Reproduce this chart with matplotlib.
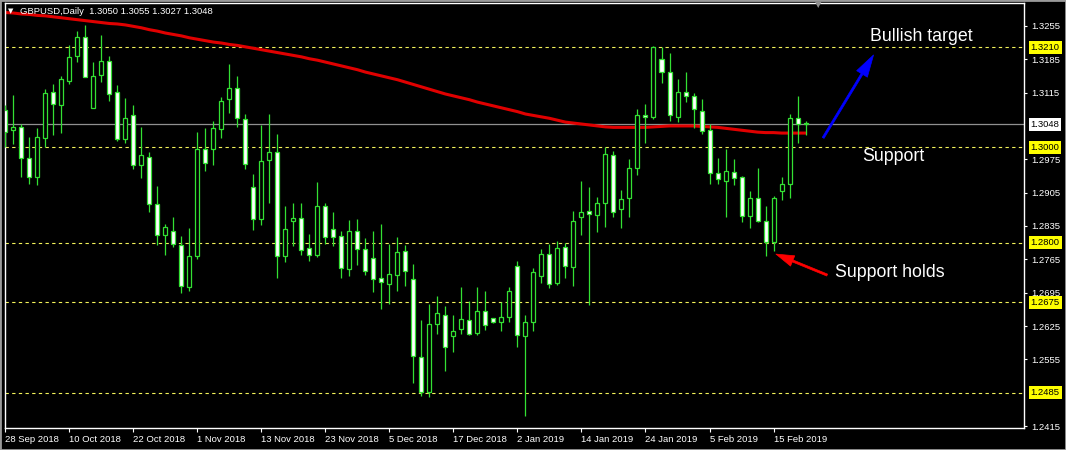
import numpy as np
import matplotlib.pyplot as plt
from matplotlib.patches import Rectangle

# GBPUSD daily bars, 28 Sep 2018 .. 21 Feb 2019
opens = [1.3078, 1.3036, 1.3042, 1.2977, 1.2938, 1.3019, 1.3117, 1.3088, 1.3140, 1.3192,
         1.3232, 1.3083, 1.3151, 1.3182, 1.3115, 1.3017, 1.3068, 1.2964, 1.2980, 1.2880,
         1.2816, 1.2825, 1.2795, 1.2707, 1.2772, 1.2996, 1.2996, 1.3038, 1.3101, 1.3125,
         1.3060, 1.2917, 1.2849, 1.2973, 1.2991, 1.2772, 1.2846, 1.2851, 1.2788, 1.2774,
         1.2877, 1.2828, 1.2814, 1.2744, 1.2824, 1.2787, 1.2767, 1.2726, 1.2714, 1.2733,
         1.2782, 1.2723, 1.2560, 1.2486, 1.2630, 1.2648, 1.2604, 1.2618, 1.2637, 1.2611,
         1.2656, 1.2641, 1.2633, 1.2643, 1.2751, 1.2605, 1.2633, 1.2730, 1.2775, 1.2716,
         1.2790, 1.2749, 1.2853, 1.2866, 1.2859, 1.2884, 1.2984, 1.2870, 1.2893, 1.2956,
         1.3068, 1.3063, 1.3185, 1.3157, 1.3064, 1.3115, 1.3108, 1.3076, 1.3036, 1.2945,
         1.2930, 1.2949, 1.2938, 1.2856, 1.2893, 1.2845, 1.2802, 1.2909, 1.2924, 1.3061,
         1.3050]
highs = [1.3089, 1.3110, 1.3050, 1.3021, 1.3040, 1.3122, 1.3132, 1.3150, 1.3215, 1.3244,
         1.3257, 1.3180, 1.3236, 1.3192, 1.3131, 1.3103, 1.3089, 1.3042, 1.2991, 1.2919,
         1.2840, 1.2853, 1.2814, 1.2830, 1.3033, 1.3040, 1.3056, 1.3105, 1.3175, 1.3150,
         1.3069, 1.2945, 1.3047, 1.3071, 1.3029, 1.2877, 1.2884, 1.2884, 1.2819, 1.2927,
         1.2884, 1.2864, 1.2825, 1.2847, 1.2850, 1.2809, 1.2824, 1.2839, 1.2797, 1.2811,
         1.2795, 1.2756, 1.2637, 1.2672, 1.2688, 1.2667, 1.2648, 1.2707, 1.2678, 1.2707,
         1.2698, 1.2642, 1.2675, 1.2707, 1.2761, 1.2648, 1.2746, 1.2786, 1.2797, 1.2803,
         1.2800, 1.2866, 1.2929, 1.2917, 1.2896, 1.3000, 1.2992, 1.2910, 1.2975, 1.3080,
         1.3092, 1.3213, 1.3210, 1.3199, 1.3143, 1.3159, 1.3115, 1.3101, 1.3050, 1.2978,
         1.2996, 1.2976, 1.2940, 1.2908, 1.2957, 1.2877, 1.2898, 1.2938, 1.3071, 1.3108,
         1.3055]
lows = [1.3001, 1.3008, 1.2938, 1.2923, 1.2920, 1.3000, 1.3026, 1.3031, 1.3134, 1.3180,
        1.3147, 1.3082, 1.3138, 1.3098, 1.3014, 1.3010, 1.2955, 1.2935, 1.2865, 1.2796,
        1.2775, 1.2790, 1.2695, 1.2699, 1.2765, 1.2951, 1.2964, 1.3019, 1.3073, 1.3043,
        1.2955, 1.2826, 1.2837, 1.2884, 1.2725, 1.2760, 1.2794, 1.2774, 1.2762, 1.2770,
        1.2798, 1.2794, 1.2725, 1.2730, 1.2753, 1.2732, 1.2697, 1.2660, 1.2672, 1.2699,
        1.2709, 1.2506, 1.2479, 1.2476, 1.2608, 1.2531, 1.2571, 1.2608, 1.2606, 1.2606,
        1.2616, 1.2632, 1.2615, 1.2634, 1.2581, 1.2436, 1.2615, 1.2716, 1.2705, 1.2711,
        1.2726, 1.2709, 1.2817, 1.2670, 1.2823, 1.2832, 1.2854, 1.2830, 1.2854, 1.2943,
        1.3010, 1.3059, 1.3136, 1.3056, 1.3054, 1.3096, 1.3041, 1.3029, 1.2924, 1.2924,
        1.2853, 1.2920, 1.2844, 1.2831, 1.2844, 1.2772, 1.2783, 1.2889, 1.2894, 1.3010,
        1.3027]
closes = [1.3033, 1.3042, 1.2977, 1.2938, 1.3021, 1.3113, 1.3090, 1.3143, 1.3190, 1.3232,
          1.3148, 1.3150, 1.3182, 1.3113, 1.3017, 1.3061, 1.2964, 1.2983, 1.2881, 1.2816,
          1.2832, 1.2798, 1.2709, 1.2772, 1.2996, 1.2968, 1.3040, 1.3098, 1.3125, 1.3061,
          1.2966, 1.2849, 1.2972, 1.2991, 1.2772, 1.2828, 1.2851, 1.2784, 1.2775, 1.2877,
          1.2812, 1.2811, 1.2746, 1.2824, 1.2786, 1.2741, 1.2723, 1.2717, 1.2733, 1.2780,
          1.2741, 1.2562, 1.2487, 1.2629, 1.2653, 1.2580, 1.2614, 1.2640, 1.2609, 1.2656,
          1.2627, 1.2633, 1.2643, 1.2698, 1.2607, 1.2633, 1.2738, 1.2777, 1.2714, 1.2788,
          1.2751, 1.2845, 1.2864, 1.2861, 1.2884, 1.2985, 1.2864, 1.2891, 1.2956, 1.3068,
          1.3063, 1.3211, 1.3159, 1.3067, 1.3115, 1.3108, 1.3080, 1.3035, 1.2947, 1.2933,
          1.2951, 1.2935, 1.2856, 1.2893, 1.2845, 1.2802, 1.2893, 1.2922, 1.3061, 1.3049,
          1.3048]
# moving average (red)
ma = [1.3283, 1.3282, 1.3280, 1.3279, 1.3277, 1.3276, 1.3274, 1.3272, 1.3270, 1.3268,
      1.3266, 1.3264, 1.3262, 1.3260, 1.3259, 1.3257, 1.3254, 1.3251, 1.3247, 1.3244,
      1.3240, 1.3237, 1.3234, 1.3230, 1.3227, 1.3224, 1.3221, 1.3219, 1.3216, 1.3214,
      1.3211, 1.3208, 1.3205, 1.3202, 1.3199, 1.3196, 1.3193, 1.3190, 1.3186, 1.3183,
      1.3179, 1.3175, 1.3171, 1.3167, 1.3163, 1.3158, 1.3154, 1.3150, 1.3146, 1.3142,
      1.3137, 1.3132, 1.3127, 1.3122, 1.3117, 1.3112, 1.3108, 1.3104, 1.3100, 1.3095,
      1.3091, 1.3087, 1.3083, 1.3079, 1.3075, 1.3070, 1.3067, 1.3064, 1.3061, 1.3057,
      1.3053, 1.3051, 1.3049, 1.3047, 1.3045, 1.3043, 1.3042, 1.3042, 1.3042, 1.3042,
      1.3042, 1.3043, 1.3044, 1.3045, 1.3045, 1.3045, 1.3045, 1.3044, 1.3043, 1.3042,
      1.3040, 1.3038, 1.3036, 1.3034, 1.3032, 1.3031, 1.3031, 1.3030, 1.3030, 1.3030,
      1.3030]

date_labels = ['28 Sep 2018', '10 Oct 2018', '22 Oct 2018', '1 Nov 2018', '13 Nov 2018',
               '23 Nov 2018', '5 Dec 2018', '17 Dec 2018', '2 Jan 2019', '14 Jan 2019',
               '24 Jan 2019', '5 Feb 2019', '15 Feb 2019']
date_pos = [0, 8, 16, 24, 32, 40, 48, 56, 64, 72, 80, 88, 96]
price_ticks = [1.3255, 1.3185, 1.3115, 1.2975, 1.2905, 1.2835, 1.2765, 1.2695,
               1.2625, 1.2555, 1.2415]
levels = [1.3210, 1.3000, 1.2800, 1.2675, 1.2485]
last_price = 1.3048

plt.rcParams['font.family'] = ['Liberation Sans', 'DejaVu Sans']

fig = plt.figure(figsize=(10.66, 4.5), dpi=100, facecolor='black')
ax = fig.add_axes([5/1066, 22/450, 1019/1066, 425/450])
ax.set_facecolor('black')

o = np.array(opens); h = np.array(highs); l = np.array(lows); c = np.array(closes)
x = np.arange(len(o))
green = '#33e033'

ax.vlines(x, l, h, color=green, lw=0.9, zorder=3)
fill = np.where(c < o, 'white', 'black')
ax.bar(x, np.abs(c - o) + 0.00002, bottom=np.minimum(o, c), width=0.5,
       color=fill, edgecolor=green, linewidth=0.9, zorder=4)

ax.plot(x, ma, color='#e00000', lw=2.2, zorder=2)

for lv in levels:
    ax.axhline(lv, color='#f2f25a', lw=0.8, dashes=(3, 3), zorder=1)
ax.axhline(last_price, color='#909090', lw=0.9, zorder=1)

ax.set_xlim(-0.04, 127.3)
ax.set_ylim(1.2411, 1.3303)

ax.set_xticks(date_pos)
ax.set_xticklabels(date_labels, ha='left')
ax.set_yticks(price_ticks)
ax.set_yticklabels([f'{p:.4f}' for p in price_ticks])
ax.yaxis.tick_right()
ax.tick_params(axis='x', colors='white', length=3, width=0.8, labelsize=6.8, pad=2)
ax.tick_params(axis='y', colors='white', length=2.5, width=0.8, labelsize=6.8, pad=2.5)
for s in ax.spines.values():
    s.set_color('white')
    s.set_linewidth(1)

ytr = ax.get_yaxis_transform()
for lv in levels:
    ax.text(1.0066, lv, f'{lv:.4f}', transform=ytr, ha='left', va='center',
            fontsize=6.8, color='black',
            bbox=dict(boxstyle='square,pad=0.2', fc='yellow', ec='none'))
ax.text(1.0066, last_price, f'{last_price:.4f}', transform=ytr, ha='left', va='center',
        fontsize=6.8, color='black',
        bbox=dict(boxstyle='square,pad=0.2', fc='white', ec='none'))

# annotations
ax.text(108.1, 1.3232, 'Bullish target', color='white', fontsize=12.8, va='center')
ax.text(107.1, 1.2980, 'Support', color='white', fontsize=12.8, va='center')
ax.text(103.7, 1.2738, 'Support holds', color='white', fontsize=12.8, va='center')

ax.annotate('', xy=(108.5, 1.3194), xytext=(102.2, 1.3020),
            arrowprops=dict(arrowstyle='simple,head_length=1.6,head_width=0.9,tail_width=0.15',
                            fc='#0000ff', ec='#0000ff', lw=0.5, mutation_scale=10,
                            shrinkA=0, shrinkB=0))
ax.annotate('', xy=(96.3, 1.2776), xytext=(102.7, 1.2732),
            arrowprops=dict(arrowstyle='simple,head_length=1.3,head_width=0.8,tail_width=0.15',
                            fc='#ff0000', ec='#ff0000', lw=0.5, mutation_scale=10,
                            shrinkA=0, shrinkB=0))

# header
fig.text(20/1066, 1 - 12/450, 'GBPUSD,Daily  1.3050 1.3055 1.3027 1.3048',
         color='white', fontsize=6.8, va='center', ha='left')
fig.text(11/1066, 1 - 11/450, '\u25bc', color='white', fontsize=5, va='center',
         ha='center', family='DejaVu Sans')
fig.text(818/1066, 1 - 5/450, '\u25bc', color='#909090', fontsize=6, va='center',
         ha='center', family='DejaVu Sans')

fig.patches.append(Rectangle((0, 0), 1, 1, transform=fig.transFigure, fill=False,
                             ec='#9a9a9a', lw=2))

plt.savefig('out.png', dpi=100, facecolor='black')
